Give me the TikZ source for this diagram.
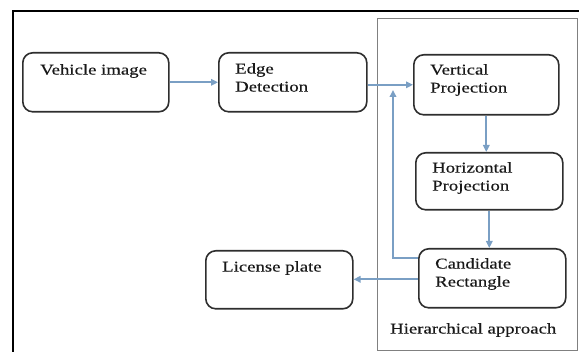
\documentclass[tikz,border=0pt]{standalone}
\usepackage{fontspec}
\setmainfont{Liberation Serif}[FakeStretch=1.25,FakeBold=0.4]
\usetikzlibrary{arrows.meta}
\definecolor{arrowblue}{HTML}{7A9FC4}
\definecolor{boxgray}{HTML}{2E2E2E}
\definecolor{framegray}{HTML}{808080}
\begin{document}
\begin{tikzpicture}[x=1pt,y=-1pt,
  procbox/.style={draw=boxgray,line width=1.6pt,rounded corners=10pt,minimum width=#1,minimum height=59pt,inner sep=0pt,anchor=north west},
  procbox/.default=146pt,
  boxtext/.style={anchor=north west,align=left,inner sep=0pt,font=\fontsize{15}{18}\selectfont,text=black!90},
  arr/.style={draw=arrowblue,line width=1.8pt,-{Triangle[length=7pt,width=6.5pt]},arrowblue}]
\useasboundingbox (0,0) rectangle (579,352);
% outer frame
\draw[line width=2.4pt,black] (13,352) -- (13,11) -- (579,11);
% inner frame
\node[draw=framegray,line width=1.3pt,minimum width=200pt,minimum height=332pt,inner sep=0pt,anchor=north west] (hier) at (377,18) {};
\node[boxtext] (hiertext) at (390,323) {Hierarchical approach};
% boxes
\node[procbox=146pt] (vi) at (22,52) {};
\node[boxtext] (vitext) at ([shift={(18,12)}]vi.north west) {Vehicle image};
\node[procbox=148pt] (ed) at (218,52) {};
\node[boxtext] (edtext) at ([shift={(17,11)}]ed.north west) {Edge\\Detection};
\node[procbox=145pt,minimum height=60pt] (vp) at (413,54) {};
\node[boxtext] (vptext) at ([shift={(17,10)}]vp.north west) {Vertical\\Projection};
\node[procbox=147pt,minimum height=57pt] (hp) at (415,152) {};
\node[boxtext] (hptext) at ([shift={(17,10)}]hp.north west) {Horizontal\\Projection};
\node[procbox=147pt,minimum height=59pt] (cr) at (418,248) {};
\node[boxtext] (crtext) at ([shift={(17,10)}]cr.north west) {Candidate\\Rectangle};
\node[procbox=147pt,minimum height=58pt] (lp) at (205,250) {};
\node[boxtext] (lptext) at ([shift={(17,11)}]lp.north west) {License plate};
% connectors
\coordinate (fbturn) at (393,258);
\coordinate (fbend) at (393,90);
\draw[arr] (vi.east) -- (ed.west);
\draw[arr] (ed.east |- vp.west) -- (vp.west);
\draw[arr] (vp.south) -- (vp.south |- hp.north);
\draw[arr] (hp.south) -- (hp.south |- cr.north);
\draw[arr] (cr.west |- fbturn) -- (fbturn) -- (fbend);
\draw[arr] ([yshift=-1pt]cr.west) -- ([yshift=-1pt]cr.west -| lp.east);
\end{tikzpicture}
\end{document}
